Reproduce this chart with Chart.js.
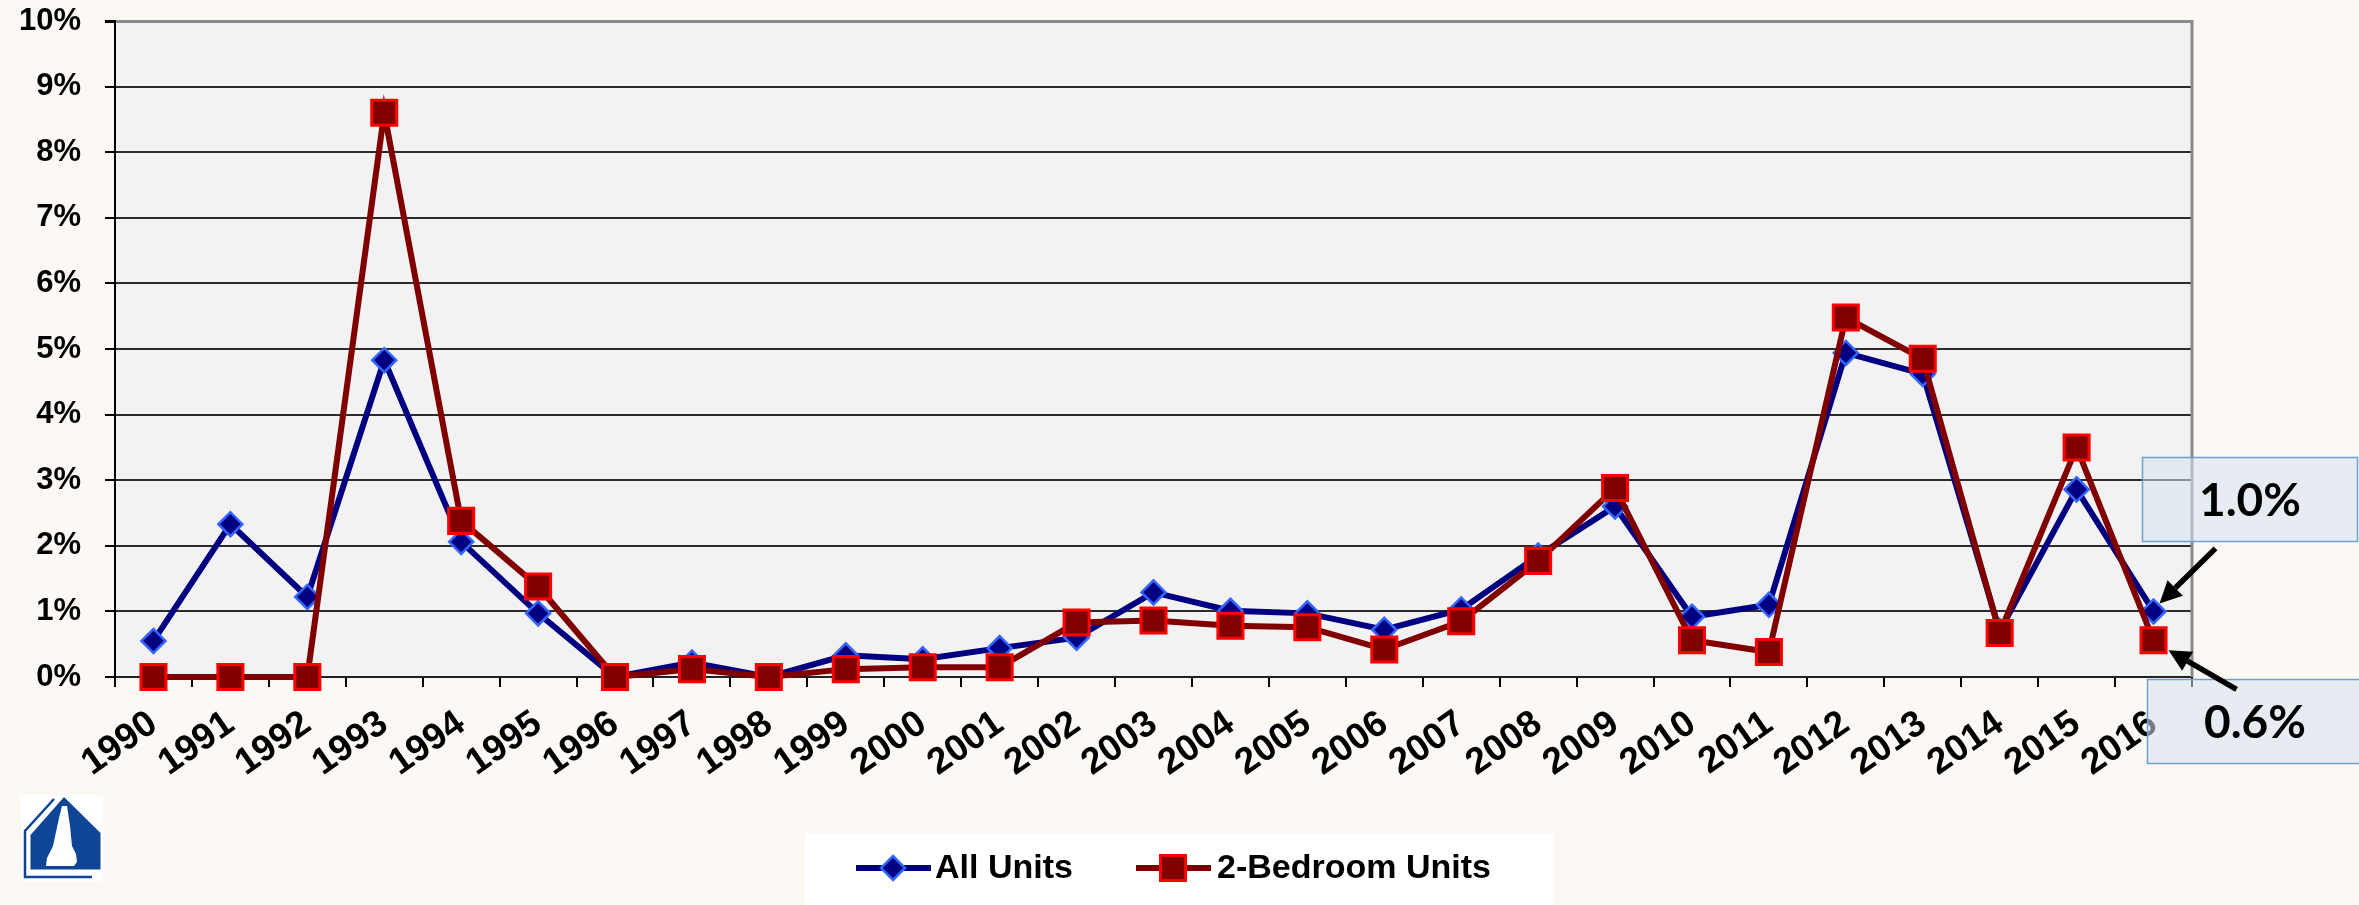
<!DOCTYPE html>
<html>
<head>
<meta charset="utf-8">
<script src="https://cdn.jsdelivr.net/npm/chart.js@4.4.1/dist/chart.umd.min.js"></script>
<style>
  html, body { margin: 0; padding: 0; background: #FCF8F3; }
  #wrap { width: 2359px; height: 905px; }
</style>
</head>
<body>
<div id="wrap"><canvas id="c" width="2359" height="905"></canvas></div>
<script>
const years = ['1990','1991','1992','1993','1994','1995','1996','1997','1998','1999','2000','2001','2002','2003','2004','2005','2006','2007','2008','2009','2010','2011','2012','2013','2014','2015','2016'];
const allUnits   = [0.55, 2.33, 1.22, 4.83, 2.06, 0.97, 0.00, 0.22, 0.00, 0.33, 0.27, 0.44, 0.60, 1.29, 1.01, 0.97, 0.72, 1.03, 1.85, 2.60, 0.92, 1.10, 4.94, 4.62, 0.70, 2.86, 1.00];
const twoBedroom = [0.00, 0.00, 0.00, 8.60, 2.38, 1.38, 0.00, 0.12, 0.00, 0.12, 0.15, 0.15, 0.83, 0.86, 0.78, 0.76, 0.42, 0.85, 1.77, 2.88, 0.56, 0.38, 5.48, 4.85, 0.67, 3.50, 0.56];
const seriesNames = ['All Units', '2-Bedroom Units'];
const yMin = 0, yMax = 10, yStep = 1;

const FONT = "'Liberation Sans', Arial, sans-serif";
Chart.defaults.font.family = FONT;

function drawDiamond(ctx, x, y, r, fill, stroke, bw) {
  ctx.beginPath();
  ctx.moveTo(x, y - r); ctx.lineTo(x + r, y); ctx.lineTo(x, y + r); ctx.lineTo(x - r, y); ctx.closePath();
  ctx.fillStyle = fill; ctx.fill();
  ctx.lineWidth = bw; ctx.strokeStyle = stroke; ctx.stroke();
}
function drawSquare(ctx, x, y, s, fill, stroke, bw) {
  ctx.beginPath(); ctx.rect(x - s / 2, y - s / 2, s, s);
  ctx.fillStyle = fill; ctx.fill();
  ctx.lineWidth = bw; ctx.strokeStyle = stroke; ctx.stroke();
}
function drawArrow(ctx, x1, y1, x2, y2) {
  const ang = Math.atan2(y2 - y1, x2 - x1);
  const hl = 22, hw = 11;
  const bx = x2 - hl * Math.cos(ang), by = y2 - hl * Math.sin(ang);
  ctx.strokeStyle = '#000'; ctx.lineWidth = 5.5; ctx.lineCap = 'butt';
  ctx.beginPath(); ctx.moveTo(x1, y1); ctx.lineTo(bx, by); ctx.stroke();
  ctx.fillStyle = '#000';
  ctx.beginPath();
  ctx.moveTo(x2, y2);
  ctx.lineTo(bx + hw * Math.sin(ang), by - hw * Math.cos(ang));
  ctx.lineTo(bx - hw * Math.sin(ang), by + hw * Math.cos(ang));
  ctx.closePath(); ctx.fill();
}
function drawLogo(ctx) {
  ctx.save();
  ctx.fillStyle = '#ffffff';
  ctx.fillRect(21, 795, 82, 86);
  const blue = '#0E4596';
  ctx.strokeStyle = blue; ctx.lineWidth = 2.5;
  ctx.beginPath();
  ctx.moveTo(54, 799); ctx.lineTo(25, 831); ctx.lineTo(25, 877); ctx.lineTo(92, 877);
  ctx.stroke();
  ctx.fillStyle = blue;
  ctx.beginPath();
  ctx.moveTo(64, 797); ctx.lineTo(100.5, 833); ctx.lineTo(100.5, 869.5); ctx.lineTo(30.5, 869.5); ctx.lineTo(30.5, 835);
  ctx.closePath(); ctx.fill();
  ctx.fillStyle = '#ffffff';
  ctx.beginPath();
  ctx.moveTo(62, 806); ctx.lineTo(67, 806); ctx.lineTo(70, 826); ctx.lineTo(72, 846);
  ctx.lineTo(76, 854); ctx.lineTo(77, 862); ctx.lineTo(74, 866); ctx.lineTo(46, 866); ctx.lineTo(47, 858);
  ctx.lineTo(53, 846); ctx.lineTo(56, 832); ctx.lineTo(59, 818);
  ctx.closePath(); ctx.fill();
  ctx.restore();
}

const decor = {
  id: 'decor',
  beforeDraw(chart) {
    const { ctx, chartArea: a } = chart;
    ctx.save();
    ctx.fillStyle = '#F2F2F2';
    ctx.fillRect(a.left, a.top, a.right - a.left, a.bottom - a.top);
    ctx.restore();
  },
  beforeDatasetsDraw(chart) {
    const { ctx, chartArea: a } = chart;
    ctx.save();
    ctx.strokeStyle = '#8a8a8a'; ctx.lineWidth = 3;
    ctx.beginPath(); ctx.moveTo(a.right, a.top - 1); ctx.lineTo(a.right, a.bottom); ctx.stroke();
    ctx.restore();
  },
  afterDraw(chart) {
    const { ctx } = chart;
    const ds = chart.data.datasets;
    ctx.save();
    // legend
    ctx.fillStyle = '#ffffff';
    ctx.fillRect(805, 833, 748, 72);
    const ly = 868;
    ctx.font = "bold 34px " + FONT;
    ctx.textBaseline = 'middle'; ctx.textAlign = 'left';
    ctx.strokeStyle = ds[0].borderColor; ctx.lineWidth = 6;
    ctx.beginPath(); ctx.moveTo(856, ly); ctx.lineTo(931, ly); ctx.stroke();
    drawDiamond(ctx, 893, ly, 12, ds[0].pointBackgroundColor, ds[0].pointBorderColor, 2.5);
    ctx.fillStyle = '#000'; ctx.fillText(ds[0].label, 935, ly + 1);
    ctx.strokeStyle = ds[1].borderColor; ctx.lineWidth = 6;
    ctx.beginPath(); ctx.moveTo(1136, ly); ctx.lineTo(1211, ly); ctx.stroke();
    drawSquare(ctx, 1173, ly, 25, ds[1].pointBackgroundColor, ds[1].pointBorderColor, 3);
    ctx.fillStyle = '#000'; ctx.fillText(ds[1].label, 1217, ly + 1);

    // annotations
    const last = years.length - 1;
    const pA = chart.getDatasetMeta(0).data[last];
    const pB = chart.getDatasetMeta(1).data[last];
    ctx.fillStyle = 'rgba(214,226,240,0.55)';
    ctx.strokeStyle = '#6FA0D4'; ctx.lineWidth = 1.5;
    ctx.fillRect(2142, 457, 216, 85); ctx.strokeRect(2142.5, 457.5, 215, 84);
    ctx.fillStyle = 'rgba(214,226,240,0.55)';
    ctx.fillRect(2147, 679, 215, 85); ctx.strokeRect(2147.5, 679.5, 215, 84);
    ctx.fillStyle = '#000';
    ctx.font = "bold 46px Lato, 'Open Sans', sans-serif";
    ctx.textAlign = 'center'; ctx.textBaseline = 'middle';
    ctx.fillText(allUnits[last].toFixed(1) + '%', 2250, 501);
    ctx.fillText(twoBedroom[last].toFixed(1) + '%', 2255, 723);
    drawArrow(ctx, pA.x + 62, pA.y - 63, pA.x + 6, pA.y - 8);
    drawArrow(ctx, pB.x + 83, pB.y + 49, pB.x + 15, pB.y + 10);

    drawLogo(ctx);
    ctx.restore();
  }
};

new Chart(document.getElementById('c'), {
  type: 'line',
  data: {
    labels: years,
    datasets: [
      {
        label: seriesNames[0],
        data: allUnits,
        borderColor: '#000080',
        backgroundColor: '#000080',
        borderWidth: 6,
        pointStyle: 'rectRot',
        pointRadius: 12,
        pointBackgroundColor: '#000080',
        pointBorderColor: '#3366FF',
        pointBorderWidth: 2.5,
        tension: 0,
        clip: false,
        order: 1
      },
      {
        label: seriesNames[1],
        data: twoBedroom,
        borderColor: '#800000',
        backgroundColor: '#800000',
        borderWidth: 6,
        pointStyle: 'rect',
        pointRadius: 17.7,
        pointBackgroundColor: '#800000',
        pointBorderColor: '#FF0000',
        pointBorderWidth: 3,
        tension: 0,
        clip: false,
        order: 0
      }
    ]
  },
  options: {
    responsive: false,
    devicePixelRatio: 1,
    animation: false,
    layout: { autoPadding: false, padding: { top: 21, right: 167, left: 0, bottom: 0 } },
    plugins: { legend: { display: false }, tooltip: { enabled: false } },
    scales: {
      x: {
        offset: true,
        grid: { display: true, drawOnChartArea: false, drawTicks: true, tickLength: 10, offset: true, color: '#000', lineWidth: 2 },
        border: { display: true, color: '#222', width: 2 },
        ticks: { autoSkip: false, maxRotation: 35, minRotation: 35, color: '#000', padding: 15, labelOffset: 0, font: { size: 37, weight: 'bold' } },
        afterFit: (s) => { s.height = 228; }
      },
      y: {
        min: yMin, max: yMax,
        ticks: { stepSize: yStep, color: '#000', padding: 24, font: { size: 31, weight: 'bold' }, callback: (v) => v + '%' },
        grid: {
          color: (c) => c.tick && c.tick.value === yMax ? '#8a8a8a' : '#2b2b2b',
          lineWidth: (c) => c.tick && c.tick.value === yMax ? 3 : 2,
          tickColor: '#000', tickLength: 10, drawTicks: true
        },
        border: { display: true, color: '#000', width: 2 },
        afterFit: (s) => { s.width = 115; s.paddingTop = 21; s.paddingBottom = 21; }
      }
    }
  },
  plugins: [decor]
});
</script>
</body>
</html>
